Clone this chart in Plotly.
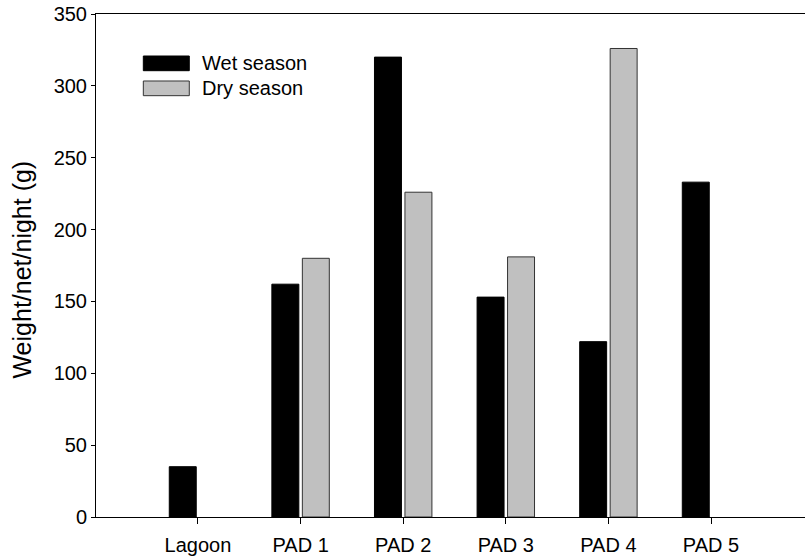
import plotly.graph_objects as go

categories = ["Lagoon", "PAD 1", "PAD 2", "PAD 3", "PAD 4", "PAD 5"]
wet_season = [35, 162, 320, 153, 122, 233]
dry_season = [None, 180, 226, 181, 326, None]
y_ticks = [0, 50, 100, 150, 200, 250, 300, 350]

FONT = "Liberation Sans, Arial, sans-serif"
x_pos = list(range(len(categories)))

fig = go.Figure()
fig.add_trace(go.Bar(x=x_pos, y=wet_season, name="Wet season",
                     marker=dict(color="black", line=dict(color="black", width=1))))
fig.add_trace(go.Bar(x=x_pos, y=dry_season, name="Dry season",
                     marker=dict(color="#c0c0c0", line=dict(color="#333333", width=1))))

# plot frame extends slightly past the visible window on the right (as in the reference)
fig.update_layout(
    width=813, height=556,
    margin=dict(l=96, r=0, t=14, b=39),
    paper_bgcolor="white", plot_bgcolor="white",
    barmode="group", bargap=0.406, bargroupgap=0.115,
    showlegend=False,
    font=dict(family=FONT, size=20, color="black"),
)
fig.update_xaxes(
    range=[-0.994, 5.994], tickmode="array", tickvals=x_pos, ticktext=categories,
    showline=True, linecolor="black", linewidth=1, mirror=True,
    ticks="outside", ticklen=6, tickcolor="black", tickwidth=1,
    showgrid=False, zeroline=False, automargin=False,
    ticklabeloverflow="allow", ticklabelstandoff=4,
    tickfont=dict(family=FONT, size=20, color="black"),
)
fig.update_yaxes(
    range=[0, 350], tickmode="array", tickvals=y_ticks,
    showline=True, linecolor="black", linewidth=1, mirror=False,
    ticks="outside", ticklen=4, tickcolor="black", tickwidth=1,
    showgrid=False, zeroline=False, automargin=False,
    ticklabeloverflow="allow",
    tickfont=dict(family=FONT, size=20, color="black"),
)

# y-axis title
fig.add_annotation(text="Weight/net/night (g)", xref="paper", yref="paper",
                   x=-0.1032, y=0.492, xanchor="center", yanchor="middle",
                   textangle=-90, showarrow=False,
                   font=dict(family=FONT, size=25, color="black"))

# custom legend
legend_items = [("Wet season", "black", "black", 0.8873, 0.9165, 0.902),
                ("Dry season", "#c0c0c0", "#333333", 0.8376, 0.8668, 0.852)]
for label, fill, edge, y0, y1, yt in legend_items:
    fig.add_shape(type="rect", xref="paper", yref="paper",
                  x0=0.066, x1=0.1301, y0=y0, y1=y1,
                  fillcolor=fill, line=dict(color=edge, width=1))
    fig.add_annotation(text=label, xref="paper", yref="paper",
                       x=0.1450, y=yt, xanchor="left", yanchor="middle",
                       showarrow=False, font=dict(family=FONT, size=20, color="black"))

fig.write_html("out.html", config={"displayModeBar": False},
               post_script="document.body.style.margin='0';document.body.style.overflow='hidden';")
